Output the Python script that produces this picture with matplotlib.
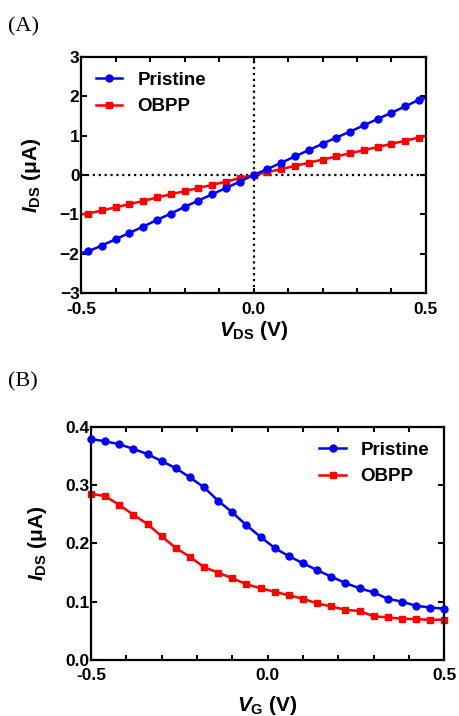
import matplotlib
matplotlib.use("Agg")
import matplotlib.pyplot as plt
from matplotlib.ticker import MultipleLocator, FormatStrFormatter

plt.rcParams['font.family'] = ['Liberation Sans', 'DejaVu Sans']
plt.rcParams['font.weight'] = 'bold'
plt.rcParams['mathtext.fontset'] = 'custom'
plt.rcParams['mathtext.it'] = 'Liberation Sans:italic:bold'
plt.rcParams['mathtext.rm'] = 'Liberation Sans:bold'
plt.rcParams['mathtext.bf'] = 'Liberation Sans:bold'

# (A) output curves
vds = [-0.5, -0.48, -0.44, -0.40, -0.36, -0.32, -0.28, -0.24, -0.20, -0.16, -0.12, -0.08, -0.04,
       0.0, 0.04, 0.08, 0.12, 0.16, 0.20, 0.24, 0.28, 0.32, 0.36, 0.40, 0.44, 0.48, 0.5]
ids_pristine_a = [-1.98, -1.94, -1.79, -1.63, -1.47, -1.31, -1.14, -0.98, -0.81, -0.65, -0.49, -0.33, -0.17,
                  0.0, 0.15, 0.31, 0.47, 0.63, 0.79, 0.95, 1.10, 1.26, 1.42, 1.58, 1.74, 1.91, 1.96]
ids_obpp_a = [-1.00, -0.98, -0.90, -0.82, -0.74, -0.66, -0.57, -0.49, -0.41, -0.33, -0.25, -0.17, -0.08,
              0.0, 0.07, 0.15, 0.23, 0.31, 0.39, 0.47, 0.55, 0.63, 0.71, 0.79, 0.87, 0.95, 0.99]

# (B) transfer curves
vg = [-0.50, -0.46, -0.42, -0.38, -0.34, -0.30, -0.26, -0.22, -0.18, -0.14, -0.10, -0.06, -0.02,
      0.02, 0.06, 0.10, 0.14, 0.18, 0.22, 0.26, 0.30, 0.34, 0.38, 0.42, 0.46, 0.50]
ids_pristine_b = [0.379, 0.375, 0.370, 0.362, 0.353, 0.341, 0.329, 0.313, 0.296, 0.273, 0.253, 0.231, 0.211,
                  0.192, 0.178, 0.166, 0.154, 0.143, 0.132, 0.123, 0.116, 0.105, 0.100, 0.093, 0.090, 0.088]
ids_obpp_b = [0.285, 0.281, 0.266, 0.249, 0.233, 0.212, 0.192, 0.177, 0.159, 0.150, 0.140, 0.130, 0.123,
              0.117, 0.111, 0.105, 0.097, 0.092, 0.086, 0.084, 0.075, 0.073, 0.071, 0.070, 0.069, 0.069]

BLUE = '#0000ff'
RED = '#ff0000'

fig = plt.figure(figsize=(4.59, 7.16), dpi=100)
axA = fig.add_axes([0.1765, 0.5904, 0.7516, 0.3304])
axB = fig.add_axes([0.1983, 0.0782, 0.7697, 0.3258])


def style_axes(ax):
    for s in ax.spines.values():
        s.set_linewidth(1.6)
    ax.tick_params(axis='y', which='major', left=True, right=True, direction='inout',
                   length=7, width=1.5, labelsize=12.5, pad=1)
    ax.tick_params(axis='y', which='major', right=True, direction='in', length=4)
    ax.tick_params(axis='x', which='both', top=True, bottom=True, direction='in',
                   length=3.5, width=1.5, labelsize=12.5, pad=6)
    for lab in ax.get_xticklabels() + ax.get_yticklabels():
        lab.set_fontweight('bold')


# panel A
n = len(vds)
axA.axhline(0, color='black', linestyle=':', linewidth=1.6, zorder=1)
axA.axvline(0, color='black', linestyle=':', linewidth=1.6, zorder=1)
axA.plot(vds, ids_pristine_a, color=BLUE, marker='o', markersize=5, linewidth=1.8,
         markevery=list(range(1, n - 1)), label='Pristine', zorder=3)
axA.plot(vds, ids_obpp_a, color=RED, marker='s', markersize=4.5, linewidth=1.8,
         markevery=list(range(1, n - 1)), label='OBPP', zorder=2)
axA.set_xlim(-0.5, 0.5)
axA.set_ylim(-3, 3)
axA.set_xticks([-0.5, 0.0, 0.5])
axA.xaxis.set_minor_locator(MultipleLocator(0.1))
axA.xaxis.set_major_formatter(FormatStrFormatter('%.1f'))
axA.set_yticks([-3, -2, -1, 0, 1, 2, 3])
style_axes(axA)
axA.set_xlabel(r'$V_{\mathrm{DS}}$ (V)', fontsize=15, fontweight='bold', labelpad=2)
axA.set_ylabel(r'$I_{\mathrm{DS}}$ (μA)', fontsize=15, fontweight='bold', labelpad=12)
axA.legend(loc='upper left', frameon=False, handlelength=1.4,
           handletextpad=0.8, borderaxespad=0.4, labelspacing=0.5,
           prop={'weight': 'bold', 'size': 13.5})

# panel B
axB.plot(vg, ids_pristine_b, color=BLUE, marker='o', markersize=5, linewidth=1.8,
         label='Pristine', clip_on=False, zorder=3)
axB.plot(vg, ids_obpp_b, color=RED, marker='s', markersize=4.5, linewidth=1.8,
         label='OBPP', clip_on=False, zorder=2)
axB.set_xlim(-0.5, 0.5)
axB.set_ylim(0.0, 0.4)
axB.set_xticks([-0.5, 0.0, 0.5])
axB.xaxis.set_minor_locator(MultipleLocator(0.1))
axB.xaxis.set_major_formatter(FormatStrFormatter('%.1f'))
axB.set_yticks([0.0, 0.1, 0.2, 0.3, 0.4])
axB.yaxis.set_major_formatter(FormatStrFormatter('%.1f'))
style_axes(axB)
axB.set_xlabel(r'$V_{\mathrm{G}}$ (V)', fontsize=15, fontweight='bold', labelpad=8)
axB.set_ylabel(r'$I_{\mathrm{DS}}$ (μA)', fontsize=15, fontweight='bold', labelpad=12)
axB.legend(loc='upper right', frameon=False, handlelength=1.4,
           handletextpad=0.8, borderaxespad=0.4, labelspacing=0.5,
           prop={'weight': 'bold', 'size': 13.5})

fig.text(0.018, 0.963, '(A)', fontsize=16, family='Liberation Serif', fontweight='normal', va='center')
fig.text(0.018, 0.466, '(B)', fontsize=16, family='Liberation Serif', fontweight='normal', va='center')

fig.savefig('out.png', dpi=100)
